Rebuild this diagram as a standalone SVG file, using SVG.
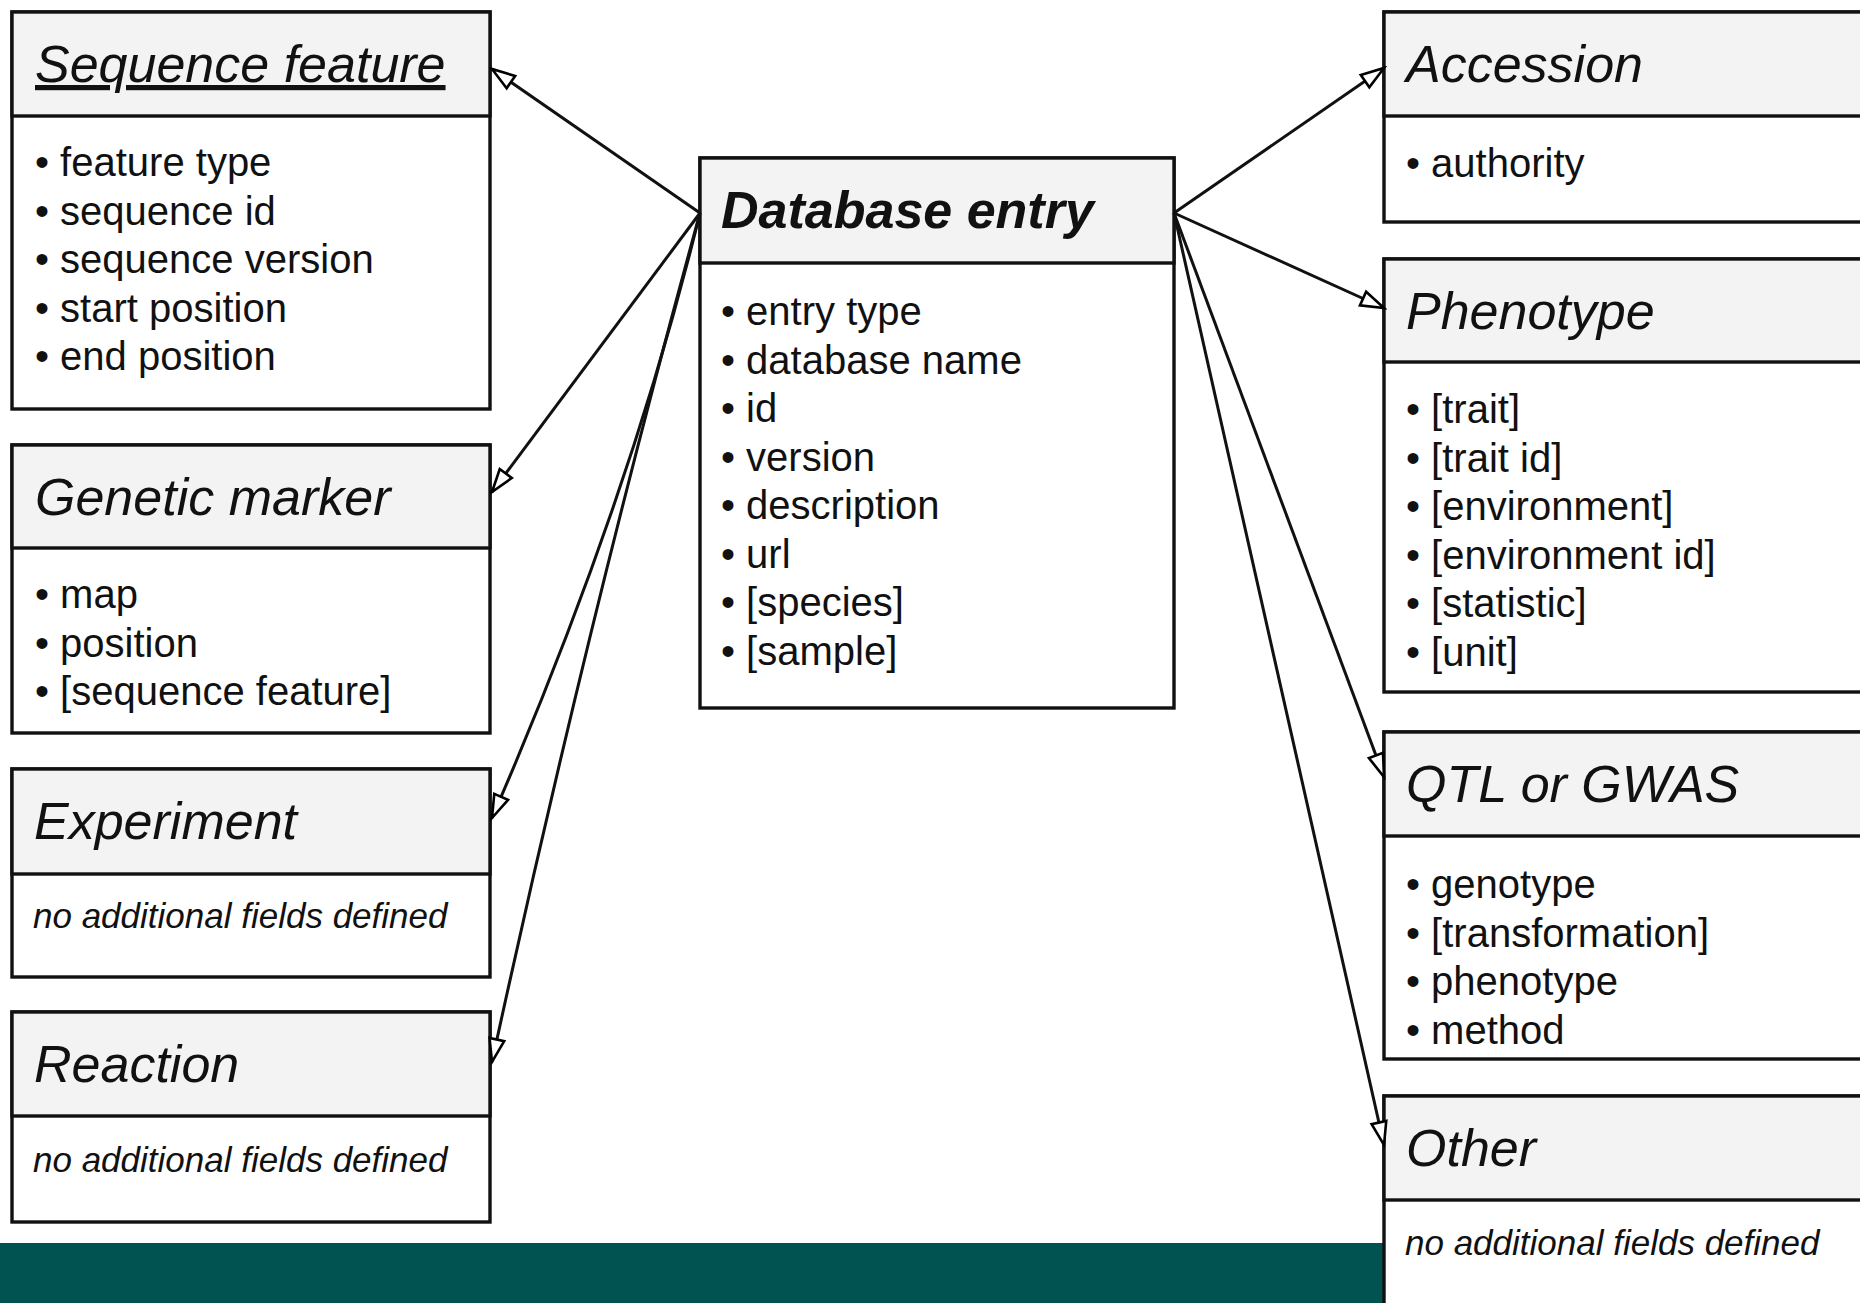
<svg xmlns="http://www.w3.org/2000/svg" width="1860" height="1303" viewBox="0 0 1860 1303">
  <defs>
    <marker id="open-arrow" markerUnits="userSpaceOnUse" markerWidth="28" markerHeight="20" viewBox="0 0 28 20" refX="25" refY="10" orient="auto">
      <path d="M2,2.5 L25,10 L2,17.5 z" fill="#ffffff" stroke="#000000" stroke-width="2.6" stroke-linejoin="miter"/>
    </marker>
    <style>
      .box { fill: #ffffff; stroke: #111111; stroke-width: 3.4; }
      .head { fill: #f3f3f3; stroke: #111111; stroke-width: 3.4; }
      .title { font-family: "Liberation Sans", Arial, sans-serif; font-size: 52px; font-style: italic; fill: #111111; }
      .title-main { font-family: "Liberation Sans", Arial, sans-serif; font-size: 52px; font-style: italic; font-weight: bold; fill: #111111; }
      .item { font-family: "Liberation Sans", Arial, sans-serif; font-size: 40px; fill: #111111; }
      .note { font-family: "Liberation Sans", Arial, sans-serif; font-size: 35px; font-style: italic; fill: #111111; }
      .link { fill: none; stroke: #111111; stroke-width: 3; marker-end: url(#open-arrow); }
    </style>
  </defs>

  <rect x="0" y="0" width="1860" height="1303" fill="#ffffff"/>

  <!-- footer band -->
  <rect x="0" y="1243" width="1860" height="60" fill="#015351"/>

  <!-- left column -->
  <g id="sequence-feature">
    <rect class="box" x="12" y="12" width="478" height="397"/>
    <rect class="head" x="12" y="12" width="478" height="104"/>
    <text class="title" x="35" y="82" text-decoration="underline">Sequence feature</text>
    <text class="item" x="35" y="176">• feature type</text>
    <text class="item" x="35" y="224.5">• sequence id</text>
    <text class="item" x="35" y="273">• sequence version</text>
    <text class="item" x="35" y="321.5">• start position</text>
    <text class="item" x="35" y="370">• end position</text>
  </g>

  <g id="genetic-marker">
    <rect class="box" x="12" y="445" width="478" height="288"/>
    <rect class="head" x="12" y="445" width="478" height="103"/>
    <text class="title" x="35" y="515">Genetic marker</text>
    <text class="item" x="35" y="608">• map</text>
    <text class="item" x="35" y="656.5">• position</text>
    <text class="item" x="35" y="705">• [sequence feature]</text>
  </g>

  <g id="experiment">
    <rect class="box" x="12" y="769" width="478" height="208"/>
    <rect class="head" x="12" y="769" width="478" height="105"/>
    <text class="title" x="34" y="839">Experiment</text>
    <text class="note" x="33" y="928">no additional fields defined</text>
  </g>

  <g id="reaction">
    <rect class="box" x="12" y="1012" width="478" height="210"/>
    <rect class="head" x="12" y="1012" width="478" height="104"/>
    <text class="title" x="34" y="1082">Reaction</text>
    <text class="note" x="33" y="1172">no additional fields defined</text>
  </g>

  <!-- centre -->
  <g id="database-entry">
    <rect class="box" x="700" y="158" width="474" height="550"/>
    <rect class="head" x="700" y="158" width="474" height="105"/>
    <text class="title-main" x="721" y="228">Database entry</text>
    <text class="item" x="721" y="325">• entry type</text>
    <text class="item" x="721" y="373.5">• database name</text>
    <text class="item" x="721" y="422">• id</text>
    <text class="item" x="721" y="470.5">• version</text>
    <text class="item" x="721" y="519">• description</text>
    <text class="item" x="721" y="567.5">• url</text>
    <text class="item" x="721" y="616">• [species]</text>
    <text class="item" x="721" y="664.5">• [sample]</text>
  </g>

  <!-- right column -->
  <g id="accession">
    <rect class="box" x="1384" y="12" width="520" height="210"/>
    <rect class="head" x="1384" y="12" width="520" height="104"/>
    <text class="title" x="1406" y="82">Accession</text>
    <text class="item" x="1406" y="177">• authority</text>
  </g>

  <g id="phenotype">
    <rect class="box" x="1384" y="259" width="520" height="433"/>
    <rect class="head" x="1384" y="259" width="520" height="103"/>
    <text class="title" x="1406" y="329">Phenotype</text>
    <text class="item" x="1406" y="423">• [trait]</text>
    <text class="item" x="1406" y="471.5">• [trait id]</text>
    <text class="item" x="1406" y="520">• [environment]</text>
    <text class="item" x="1406" y="568.5">• [environment id]</text>
    <text class="item" x="1406" y="617">• [statistic]</text>
    <text class="item" x="1406" y="665.5">• [unit]</text>
  </g>

  <g id="qtl-or-gwas">
    <rect class="box" x="1384" y="732" width="520" height="327"/>
    <rect class="head" x="1384" y="732" width="520" height="104"/>
    <text class="title" x="1406" y="802">QTL or GWAS</text>
    <text class="item" x="1406" y="898">• genotype</text>
    <text class="item" x="1406" y="946.5">• [transformation]</text>
    <text class="item" x="1406" y="995">• phenotype</text>
    <text class="item" x="1406" y="1043.5">• method</text>
  </g>

  <g id="other">
    <rect class="box" x="1384" y="1096" width="520" height="260"/>
    <rect class="head" x="1384" y="1096" width="520" height="104"/>
    <text class="title" x="1406" y="1166">Other</text>
    <text class="note" x="1405" y="1255">no additional fields defined</text>
  </g>

  <!-- connectors: generalisation arrows from Database entry -->
  <g id="connectors">
    <path class="link" d="M700,213 L492,69"/>
    <path class="link" d="M700,213 L492,492"/>
    <path class="link" d="M700,213 Q630,500 492,818"/>
    <path class="link" d="M700,213 Q588,620 492,1062"/>
    <path class="link" d="M1174,213 L1384,68"/>
    <path class="link" d="M1174,213 L1384,308"/>
    <path class="link" d="M1174,213 L1384,777"/>
    <path class="link" d="M1174,213 L1384,1145"/>
  </g>
</svg>
